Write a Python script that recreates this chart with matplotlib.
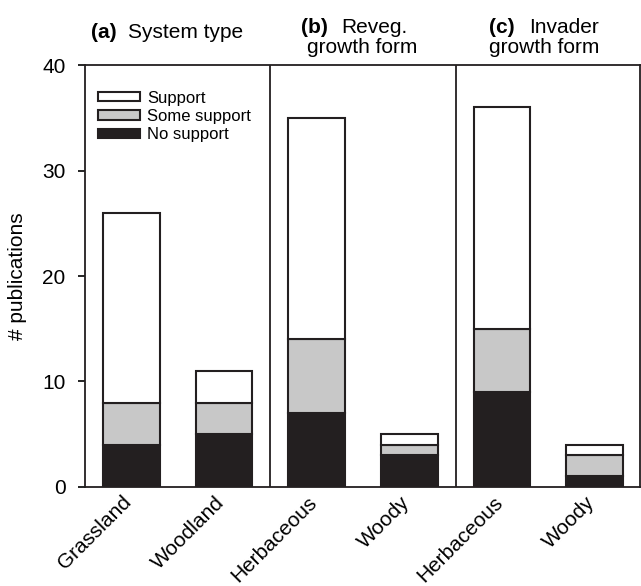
import matplotlib
matplotlib.use('Agg')
import matplotlib.pyplot as plt
import numpy as np

plt.rcParams['font.family'] = ['Liberation Sans', 'DejaVu Sans']

categories = ['Grassland', 'Woodland', 'Herbaceous', 'Woody', 'Herbaceous', 'Woody']
no_support = [4, 5, 7, 3, 9, 1]
some_support = [4, 3, 7, 1, 6, 2]
support = [18, 3, 21, 1, 21, 1]
yticks = [0, 10, 20, 30, 40]

fig = plt.figure(figsize=(6.41, 5.86), dpi=100)
ax = fig.add_axes([0.1326, 0.169, 0.866, 0.720])

x = np.arange(len(categories))
ns = np.array(no_support)
ss = np.array(some_support)
sp = np.array(support)
w = 0.61
ec = '#231f20'
ax.bar(x, ns, w, color='#231f20', edgecolor=ec, linewidth=1.5, label='No support')
ax.bar(x, ss, w, bottom=ns, color='#c8c8c8', edgecolor=ec, linewidth=1.5, label='Some support')
ax.bar(x, sp, w, bottom=ns + ss, color='white', edgecolor=ec, linewidth=1.5, label='Support')

# panel dividers
for xv in (1.5, 3.5):
    ax.axvline(xv, color='#231f20', lw=1.3)

ax.set_xlim(-0.50, 5.49)
ax.set_ylim(0, 40)
ax.set_yticks(yticks)
# rotated labels end just right of each bar centre
ax.set_xticks(x - 0.10)
ax.set_xticklabels(categories, rotation=45, ha='right', rotation_mode='anchor', fontsize=15)
ax.tick_params(axis='x', length=0, pad=4)
ax.tick_params(axis='y', labelsize=15, length=5, width=1.2, direction='out', pad=9)
ax.set_ylabel('# publications', fontsize=15, labelpad=11)
for s in ax.spines.values():
    s.set_linewidth(1.3)
    s.set_color('#231f20')

h, l = ax.get_legend_handles_labels()
ax.legend(h[::-1], l[::-1], loc='upper left', bbox_to_anchor=(-0.003, 0.975),
          frameon=False, fontsize=12, handlelength=2.5, handleheight=0.48,
          labelspacing=0.2, handletextpad=0.45)

tkw = dict(transform=ax.transData, fontsize=15, va='baseline', clip_on=False)
ax.text(-0.43, 42.56, '(a)', fontweight='bold', **tkw)
ax.text(-0.04, 42.56, 'System type', **tkw)
ax.text(1.83, 43.03, '(b)', fontweight='bold', **tkw)
ax.text(2.27, 43.03, 'Reveg.', **tkw)
ax.text(1.90, 41.14, 'growth form', **tkw)
ax.text(3.86, 43.03, '(c)', fontweight='bold', **tkw)
ax.text(4.29, 43.03, 'Invader', **tkw)
ax.text(3.86, 41.14, 'growth form', **tkw)

fig.savefig('out.png', dpi=100)
